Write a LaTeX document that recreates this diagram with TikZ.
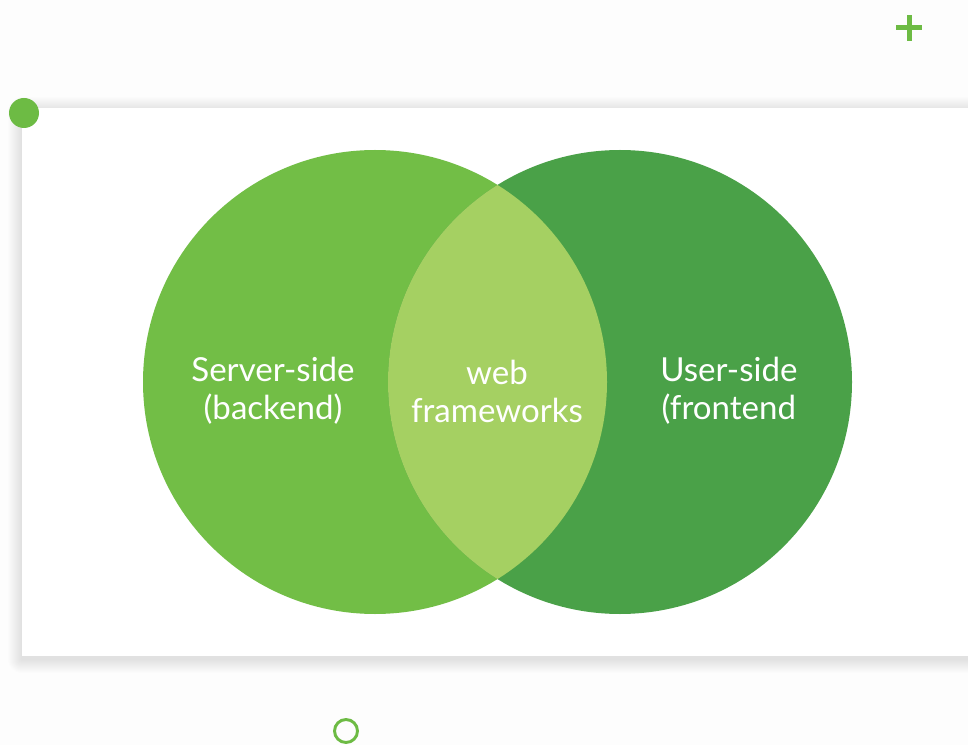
\documentclass[tikz,border=0pt]{standalone}
\usepackage{fontspec}
\setmainfont{Lato}
\definecolor{leftgreen}{HTML}{72BE46}
\definecolor{rightgreen}{HTML}{4AA148}
\definecolor{lensgreen}{HTML}{A5D062}
\definecolor{accent}{HTML}{6DBB44}
\definecolor{pagebg}{HTML}{FDFDFD}
\begin{document}
\begin{tikzpicture}[x=0.75pt,y=-0.75pt,
  label text/.style={text=white, font=\fontsize{24.8}{28.5}\selectfont, align=center, inner sep=0pt}]
  \useasboundingbox (0,0) rectangle (968,745);
  \clip (0,0) rectangle (968,745);
  \fill[pagebg] (0,0) rectangle (968,745);
  % soft shadow under the card, built from stacked translucent layers
  \foreach \s in {1,...,14} {
    \fill[black, opacity=0.007, rounded corners=\s*0.75pt]
      (22-\s,108-\s+3) rectangle (1000+\s,656+\s+3);
  }
  % white card holding the diagram
  \fill[white] (22,108) rectangle (1000,656);
  \coordinate (cardcorner) at (24,113);
  % the two sets
  \fill[leftgreen] (375,382) circle (232);
  \fill[rightgreen] (620,382) circle (232);
  % their overlap
  \begin{scope}
    \clip (375,382) circle (232);
    \fill[lensgreen] (620,382) circle (232);
  \end{scope}
  % labels
  \node[label text] (server) at (273,391) {Server-side\\(backend)};
  \node[label text] (web) at (497,391) {web\\frameworks};
  \node[label text, anchor=west] (user) at (660,391) {User-side\\(frontend};
  % decorations
  \fill[accent] (cardcorner) circle (15);
  \fill[accent] (906.5,15) rectangle (911.5,41);
  \fill[accent] (896,25.5) rectangle (922,30.5);
  \draw[accent, line width=2.2pt] (346,731) circle (11.5);
\end{tikzpicture}
\end{document}
